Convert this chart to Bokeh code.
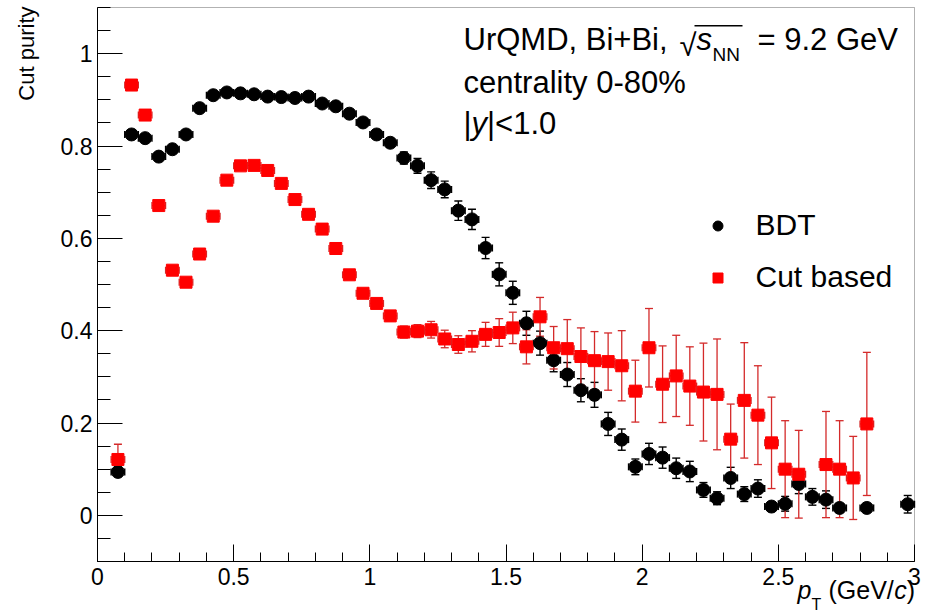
import math
from bokeh.plotting import figure
from bokeh.models import (ColumnDataSource, Range1d, Whisker, TeeHead, Label, Legend, LegendItem,
                          SingleIntervalTicker, PrintfTickFormatter, BoxAnnotation)
from bokeh.embed import file_html
from bokeh.resources import INLINE

# ---------------- data ----------------
bdt_pt = [0.075, 0.125, 0.175, 0.225, 0.275, 0.325, 0.375, 0.425, 0.475, 0.525,
          0.575, 0.625, 0.675, 0.725, 0.775, 0.825, 0.875, 0.925, 0.975, 1.025,
          1.075, 1.125, 1.175, 1.225, 1.275, 1.325, 1.375, 1.425, 1.475, 1.525,
          1.575, 1.625, 1.675, 1.725, 1.775, 1.825, 1.875, 1.925, 1.975, 2.025,
          2.075, 2.125, 2.175, 2.225, 2.275, 2.325, 2.375, 2.425, 2.475, 2.525,
          2.575, 2.625, 2.675, 2.725, 2.825, 2.975]
bdt_purity = [0.094, 0.825, 0.817, 0.777, 0.793, 0.825, 0.882, 0.910, 0.916, 0.914,
              0.912, 0.907, 0.906, 0.904, 0.907, 0.892, 0.886, 0.870, 0.851, 0.825,
              0.807, 0.774, 0.757, 0.726, 0.706, 0.660, 0.641, 0.579, 0.522, 0.482,
              0.416, 0.373, 0.336, 0.305, 0.271, 0.261, 0.198, 0.164, 0.105, 0.133,
              0.125, 0.102, 0.095, 0.055, 0.037, 0.081, 0.046, 0.058, 0.019, 0.025,
              0.068, 0.040, 0.034, 0.016, 0.016, 0.024]
bdt_err = [0.010, 0.004, 0.004, 0.004, 0.004, 0.004, 0.004, 0.004, 0.004, 0.004,
           0.004, 0.004, 0.004, 0.004, 0.004, 0.005, 0.005, 0.006, 0.007, 0.008,
           0.010, 0.013, 0.016, 0.018, 0.018, 0.021, 0.022, 0.023, 0.025, 0.025,
           0.026, 0.026, 0.025, 0.026, 0.025, 0.027, 0.025, 0.023, 0.017, 0.023,
           0.023, 0.022, 0.022, 0.016, 0.014, 0.023, 0.016, 0.019, 0.008, 0.016,
           0.021, 0.018, 0.019, 0.008, 0.008, 0.019]

cut_pt = [0.075, 0.125, 0.175, 0.225, 0.275, 0.325, 0.375, 0.425, 0.475, 0.525,
          0.575, 0.625, 0.675, 0.725, 0.775, 0.825, 0.875, 0.925, 0.975, 1.025,
          1.075, 1.125, 1.175, 1.225, 1.275, 1.325, 1.375, 1.425, 1.475, 1.525,
          1.575, 1.625, 1.675, 1.725, 1.775, 1.825, 1.875, 1.925, 1.975, 2.025,
          2.075, 2.125, 2.175, 2.225, 2.275, 2.325, 2.375, 2.425, 2.475, 2.525,
          2.575, 2.675, 2.725, 2.775, 2.825]
cut_purity = [0.121, 0.932, 0.867, 0.671, 0.531, 0.505, 0.566, 0.648, 0.726, 0.757,
              0.758, 0.747, 0.719, 0.684, 0.652, 0.620, 0.578, 0.521, 0.481, 0.459,
              0.432, 0.397, 0.399, 0.402, 0.382, 0.370, 0.377, 0.392, 0.396, 0.406,
              0.365, 0.430, 0.363, 0.361, 0.344, 0.335, 0.333, 0.324, 0.269, 0.363,
              0.284, 0.302, 0.280, 0.267, 0.262, 0.165, 0.249, 0.217, 0.157, 0.100,
              0.089, 0.110, 0.100, 0.081, 0.198]
cut_err = [0.033, 0.003, 0.003, 0.003, 0.003, 0.004, 0.004, 0.004, 0.004, 0.004,
           0.004, 0.005, 0.005, 0.005, 0.006, 0.006, 0.007, 0.008, 0.009, 0.010,
           0.011, 0.013, 0.014, 0.018, 0.019, 0.019, 0.023, 0.026, 0.030, 0.034,
           0.037, 0.042, 0.046, 0.063, 0.062, 0.063, 0.062, 0.076, 0.067, 0.085,
           0.083, 0.088, 0.085, 0.106, 0.120, 0.076, 0.125, 0.107, 0.099, 0.105,
           0.095, 0.115, 0.105, 0.090, 0.155]

pt_half_bin = 0.025

x_axis_range = (0.0, 3.0)
y_axis_range = (-0.1, 1.1)
x_ticks_interval = 0.5
y_ticks_interval = 0.2

FONT = "Liberation Sans"
W, H = 925, 615
K_BASE = 0.33  # empirical baseline correction of Label text (fraction of font size)

# pixel geometry of the drawing box (page pixels)
BOX_L, BOX_R, BOX_T, BOX_B = 97, 914, 7, 561
XS = (BOX_R - BOX_L) / (x_axis_range[1] - x_axis_range[0])
YS = (BOX_B - BOX_T) / (y_axis_range[1] - y_axis_range[0])


def dx(px):
    return x_axis_range[0] + (px - BOX_L) / XS


def dy(py):
    return y_axis_range[0] + (BOX_B - py) / YS


def make_source(xs, ys, es):
    return ColumnDataSource(dict(
        x=xs, y=ys,
        upper=[y + e for y, e in zip(ys, es)],
        lower=[y - e for y, e in zip(ys, es)],
        xlo=[x - pt_half_bin for x in xs],
        xhi=[x + pt_half_bin for x in xs],
    ))


src_bdt = make_source(bdt_pt, bdt_purity, bdt_err)
src_cut = make_source(cut_pt, cut_purity, cut_err)

p = figure(width=W, height=H, x_range=Range1d(dx(0), dx(W)), y_range=Range1d(dy(H), dy(0)),
           output_backend="svg", toolbar_location=None, title=None,
           min_border_left=0, min_border_right=0, min_border_top=0, min_border_bottom=0,
           background_fill_color="white", border_fill_color="white")
p.grid.visible = False
p.outline_line_color = None

# axes, drawn at the edges of the data box
p.xaxis.fixed_location = y_axis_range[0]
p.yaxis.fixed_location = x_axis_range[0]
p.xaxis.bounds = x_axis_range
p.yaxis.bounds = y_axis_range
p.xaxis.ticker = SingleIntervalTicker(interval=x_ticks_interval, num_minor_ticks=5)
p.yaxis.ticker = SingleIntervalTicker(interval=y_ticks_interval, num_minor_ticks=4)
for ax in (p.xaxis[0], p.yaxis[0]):
    ax.formatter = PrintfTickFormatter(format="%.3g")
    ax.axis_line_color = "black"
    ax.major_tick_line_color = "black"
    ax.minor_tick_line_color = "black"
    ax.major_tick_out = 0
    ax.minor_tick_out = 0
    ax.major_label_text_font = FONT
    ax.major_label_text_font_size = "23px"
    ax.major_label_text_color = "black"
p.yaxis.major_tick_in = 25
p.yaxis.minor_tick_in = 13
p.xaxis.major_tick_in = 17
p.xaxis.minor_tick_in = 9
p.yaxis.major_label_standoff = 5
p.xaxis.major_label_standoff = 6

# frame of the data box
p.add_layout(BoxAnnotation(left=x_axis_range[0], right=x_axis_range[1],
                           bottom=y_axis_range[0], top=y_axis_range[1],
                           fill_alpha=0, line_color="black", line_width=1, level="underlay"))

# error bars
def add_errors(src, color, width):
    p.add_layout(Whisker(source=src, base="x", upper="upper", lower="lower", dimension="height",
                         line_color=color, line_width=width,
                         upper_head=TeeHead(size=8, line_color=color, line_width=width),
                         lower_head=TeeHead(size=8, line_color=color, line_width=width)))
    p.add_layout(Whisker(source=src, base="y", upper="xhi", lower="xlo", dimension="width",
                         line_color=color, line_width=width,
                         upper_head=TeeHead(size=7, line_color=color, line_width=width),
                         lower_head=TeeHead(size=7, line_color=color, line_width=width)))

add_errors(src_bdt, "black", 1.4)
add_errors(src_cut, "#d42a2a", 1.3)

r_bdt = p.scatter("x", "y", source=src_bdt, marker="circle", size=13,
                  fill_color="black", line_color="black")
r_cut = p.scatter("x", "y", source=src_cut, marker="square", size=12,
                  fill_color="#ff0000", line_color="#ff0000")

legend = Legend(items=[LegendItem(label="BDT", renderers=[r_bdt]),
                       LegendItem(label="Cut based", renderers=[r_cut])],
                location=(704.5, H - 294), glyph_width=25, glyph_height=25, label_standoff=26,
                spacing=18, padding=0, margin=0, border_line_alpha=0, background_fill_alpha=0,
                label_text_font=FONT, label_text_font_size="30px", label_text_color="black")
p.add_layout(legend)


def lab(text, px, py, size, style="normal", align="left", angle=0):
    # px, py: wanted page position of the text baseline
    if angle == 0:
        py = py - K_BASE * size
    else:
        px = px - K_BASE * size
    p.add_layout(Label(x=dx(px), y=dy(py), text=text, text_font=FONT, text_font_size=f"{size}px",
                       text_font_style=style, text_align=align, text_baseline="alphabetic",
                       angle=angle, text_color="black"))

# header
lab("UrQMD, Bi+Bi,", 463, 49, 31)
lab("\u221a", 679, 55, 31)
lab("s", 696, 49, 31, style="italic")
lab("NN", 712, 60, 19)
lab("= 9.2 GeV", 757, 49, 31)
p.add_layout(BoxAnnotation(left=dx(694), right=dx(742), top=dy(24.5), bottom=dy(26),
                           fill_color="black", fill_alpha=1, line_alpha=0))
lab("centrality 0-80%", 463, 92, 31)
lab("|", 463, 133, 31)
lab("y", 471, 133, 31, style="italic")
lab("|<1.0", 486.5, 133, 31)

# x axis title
lab("p", 797, 598, 25, style="italic")
lab("T", 811, 609, 16)
lab("(GeV/", 828, 598, 25)
lab("c", 893.7, 598, 25, style="italic")
lab(")", 906.2, 598, 25)

# y axis title
lab("Cut purity", 33, 6, 22, align="right", angle=math.pi / 2)

open("out.html", "w").write(file_html(p, INLINE))
